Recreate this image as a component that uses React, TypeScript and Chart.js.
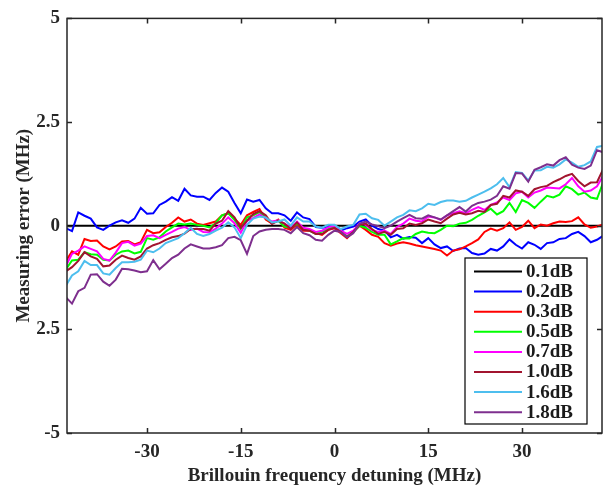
import React, { useEffect, useRef } from "react";
import { Chart, registerables } from "chart.js";

Chart.register(...registerables);

const detuning = [
  -43, -42, -41, -40, -39, -38, -37, -36, -35, -34, -33, -32, -31, -30, -29, -28, -27, -26, -25, -24, -23, -22,
  -21, -20, -19, -18, -17, -16, -15, -14, -13, -12, -11, -10, -9, -8, -7, -6, -5, -4, -3, -2, -1, 0, 1, 2, 3, 4,
  5, 6, 7, 8, 9, 10, 11, 12, 13, 14, 15, 16, 17, 18, 19, 20, 21, 22, 23, 24, 25, 26, 27, 28, 29, 30, 31, 32, 33,
  34, 35, 36, 37, 38, 39, 40, 41, 42, 43,
];

const seriesLabels = ["0.1dB", "0.2dB", "0.3dB", "0.5dB", "0.7dB", "1.0dB", "1.6dB", "1.8dB"];
const seriesColors = ["#000000", "#0000FF", "#FF0000", "#00FF00", "#FF00FF", "#A2142F", "#4DBEEE", "#7E2F8E"];

const err01 = [
  0, 0, 0, 0, 0, 0, 0, 0, 0, 0, 0, 0, 0, 0, 0, 0, 0, 0, 0, 0, 0, 0, 0, 0, 0, 0, 0, 0, 0, 0, 0, 0, 0, 0, 0, 0, 0, 0,
  0, 0, 0, 0, 0, 0, 0, 0, 0, 0, 0, 0, 0, 0, 0, 0, 0, 0, 0, 0, 0, 0, 0, 0, 0, 0, 0, 0, 0, 0, 0, 0, 0, 0, 0, 0, 0, 0,
  0, 0, 0, 0, 0, 0, 0, 0, 0, 0, 0,
];

const err02 = [
  -0.06, -0.13, 0.32, 0.24, 0.17, -0.04, -0.1, 0.0, 0.08, 0.13, 0.07, 0.17, 0.43, 0.29, 0.3, 0.5, 0.58, 0.69,
  0.6, 0.89, 0.73, 0.7, 0.7, 0.62, 0.79, 0.92, 0.82, 0.55, 0.3, 0.63, 0.58, 0.62, 0.42, 0.3, 0.3, 0.25, 0.12,
  0.32, 0.2, 0.16, -0.03, -0.05, -0.03, 0.0, -0.12, -0.06, -0.02, 0.1, 0.15, 0.0, -0.08, -0.12, -0.28, -0.22,
  -0.31, -0.27, -0.29, -0.42, -0.3, -0.45, -0.54, -0.5, -0.61, -0.55, -0.54, -0.66, -0.7, -0.67, -0.56, -0.6,
  -0.5, -0.33, -0.46, -0.55, -0.4, -0.46, -0.56, -0.42, -0.4, -0.32, -0.3, -0.2, -0.15, -0.25, -0.4, -0.34, -0.24,
];

const err03 = [
  -0.86, -0.62, -0.7, -0.32, -0.37, -0.36, -0.5, -0.57, -0.5, -0.38, -0.37, -0.45, -0.4, -0.1, -0.18, -0.16,
  -0.03, 0.07, 0.2, 0.1, 0.15, 0.05, 0.02, 0.06, 0.1, 0.25, 0.3, 0.17, 0.02, 0.25, 0.33, 0.4, 0.15, 0.05, 0.15,
  -0.05, -0.1, 0.03, -0.12, -0.12, -0.18, -0.22, -0.1, -0.06, -0.18, -0.3, -0.15, 0.0, -0.1, -0.22, -0.27, -0.42,
  -0.48, -0.43, -0.4, -0.43, -0.47, -0.5, -0.53, -0.56, -0.6, -0.72, -0.6, -0.57, -0.5, -0.42, -0.33, -0.15,
  -0.07, -0.12, -0.06, 0.08, -0.1, -0.03, 0.12, -0.06, 0.03, 0.0, 0.06, 0.1, 0.09, 0.11, 0.2, 0.03, -0.05, -0.02,
  0.03,
];

const err05 = [
  -1.06, -0.84, -0.82, -0.64, -0.69, -0.7, -0.82, -0.84, -0.7, -0.62, -0.6, -0.67, -0.63, -0.3, -0.34, -0.28,
  -0.14, -0.04, 0.05, 0.03, 0.05, 0.02, 0.0, -0.04, 0.06, 0.25, 0.3, 0.14, -0.08, 0.2, 0.25, 0.33, 0.18, 0.08,
  0.12, -0.02, -0.05, 0.05, -0.06, -0.12, -0.2, -0.14, -0.08, -0.02, -0.15, -0.26, -0.15, 0.0, -0.05, -0.15,
  -0.22, -0.22, -0.45, -0.38, -0.3, -0.31, -0.2, -0.14, -0.17, -0.18, -0.1, 0.0, -0.01, 0.05, 0.07, 0.14, 0.24,
  0.32, 0.41, 0.27, 0.35, 0.55, 0.33, 0.62, 0.55, 0.43, 0.58, 0.72, 0.68, 0.75, 0.95, 0.88, 0.75, 0.8, 0.68, 0.65,
  1.05,
];

const err07 = [
  -0.98, -0.68, -0.6, -0.5, -0.56, -0.62, -0.8, -0.84, -0.65, -0.42, -0.39, -0.48, -0.43, -0.25, -0.23, -0.3,
  -0.22, -0.15, -0.07, -0.03, -0.1, -0.07, -0.15, -0.16, -0.07, 0.05, 0.2, 0.06, -0.17, 0.12, 0.19, 0.27, 0.18,
  0.1, 0.13, 0.05, -0.05, 0.1, -0.05, -0.08, -0.15, -0.12, -0.04, 0.0, -0.12, -0.2, -0.12, 0.05, 0.02, -0.1,
  -0.15, -0.12, -0.2, -0.03, 0.05, 0.17, 0.12, 0.1, 0.22, 0.2, 0.14, 0.25, 0.3, 0.35, 0.3, 0.38, 0.45, 0.38, 0.5,
  0.56, 0.68, 0.62, 0.78, 0.82, 0.68, 0.8, 0.85, 0.92, 0.91, 0.9, 1.0, 1.15, 0.95, 0.82, 0.85, 0.95, 1.21,
];

const err10 = [
  -1.1, -1.0, -0.85, -0.64, -0.74, -0.8, -0.98, -0.96, -0.82, -0.72, -0.78, -0.82, -0.74, -0.55, -0.47, -0.42,
  -0.34, -0.28, -0.25, -0.19, -0.08, -0.08, -0.08, -0.12, 0.05, 0.12, 0.35, 0.2, -0.05, 0.12, 0.28, 0.35, 0.25,
  0.04, 0.12, 0.05, -0.08, 0.08, -0.1, -0.12, -0.2, -0.2, -0.1, -0.05, -0.15, -0.28, -0.15, 0.02, 0.05, -0.08,
  -0.2, -0.15, -0.22, -0.08, -0.06, 0.05, 0.02, 0.06, 0.15, 0.1, 0.06, 0.17, 0.27, 0.31, 0.27, 0.3, 0.36, 0.33,
  0.5, 0.53, 0.72, 0.68, 0.85, 0.82, 0.72, 0.88, 0.93, 0.96, 1.05, 1.12, 1.2, 1.25, 1.08, 0.95, 1.04, 1.05, 1.37,
];

const err16 = [
  -1.45, -1.2, -1.1, -0.85, -0.95, -0.95, -1.15, -1.18, -1.02, -0.88, -0.88, -0.87, -0.82, -0.6, -0.64, -0.55,
  -0.42, -0.36, -0.3, -0.18, -0.05, -0.2, -0.25, -0.2, -0.12, -0.05, 0.08, -0.04, -0.3, 0.02, 0.17, 0.22, 0.2,
  0.08, 0.1, 0.15, 0.0, 0.2, 0.1, 0.1, -0.02, -0.05, 0.02, 0.02, -0.08, -0.02, 0.02, 0.27, 0.29, 0.18, 0.14, 0.0,
  0.1, 0.2, 0.26, 0.37, 0.35, 0.42, 0.53, 0.5, 0.57, 0.61, 0.61, 0.58, 0.6, 0.68, 0.75, 0.82, 0.9, 1.0, 1.15,
  0.93, 1.29, 1.27, 1.09, 1.33, 1.34, 1.42, 1.4, 1.48, 1.6, 1.52, 1.42, 1.46, 1.55, 1.9, 1.93,
];

const err18 = [
  -1.72, -1.88, -1.58, -1.5, -1.18, -1.17, -1.35, -1.45, -1.3, -1.04, -1.05, -1.08, -1.12, -1.1, -0.83, -1.05,
  -0.92, -0.78, -0.7, -0.55, -0.45, -0.5, -0.55, -0.55, -0.52, -0.47, -0.3, -0.27, -0.35, -0.68, -0.25, -0.14,
  -0.1, -0.08, -0.08, -0.1, -0.18, -0.03, -0.18, -0.23, -0.34, -0.36, -0.22, -0.12, -0.15, -0.28, -0.18, 0.05,
  0.1, 0.03, -0.01, -0.06, 0.0, 0.1, 0.18, 0.26, 0.18, 0.17, 0.25, 0.2, 0.15, 0.25, 0.35, 0.45, 0.34, 0.48,
  0.55, 0.58, 0.63, 0.72, 0.95, 0.89, 1.27, 1.26, 1.06, 1.35, 1.41, 1.48, 1.45, 1.58, 1.65, 1.47, 1.4, 1.37,
  1.45, 1.82, 1.77,
];

const seriesValues = [err01, err02, err03, err05, err07, err10, err16, err18];

const xTicks = [-30, -15, 0, 15, 30];
const yTicks = [-5, -2.5, 0, 2.5, 5];
const yTickLabels = ["-5", "2.5", "0", "2.5", "5"];

const FONT_FAMILY = "'Liberation Serif', 'Times New Roman', serif";
const AXIS_COLOR = "#262626";

const framePlugin = {
  id: "frame",
  afterDatasetsDraw(chart: any) {
    const { ctx, chartArea } = chart;
    const { left, right, top, bottom } = chartArea;
    const xs = chart.scales.x;
    const ys = chart.scales.y;
    ctx.save();
    ctx.strokeStyle = AXIS_COLOR;
    ctx.lineWidth = 1.5;
    ctx.strokeRect(left, top, right - left, bottom - top);
    const tl = 5;
    ctx.beginPath();
    xs.ticks.forEach((t: any) => {
      const px = Math.round(xs.getPixelForValue(t.value)) + 0.5;
      ctx.moveTo(px, bottom);
      ctx.lineTo(px, bottom - tl);
      ctx.moveTo(px, top);
      ctx.lineTo(px, top + tl);
    });
    ys.ticks.forEach((t: any) => {
      const py = Math.round(ys.getPixelForValue(t.value)) + 0.5;
      ctx.moveTo(left, py);
      ctx.lineTo(left + tl, py);
      ctx.moveTo(right, py);
      ctx.lineTo(right - tl, py);
    });
    ctx.stroke();
    ctx.restore();
  },
  afterDraw(chart: any) {
    const { ctx, chartArea } = chart;
    const datasets = chart.data.datasets;
    const boxRight = chartArea.right - 15;
    const boxBottom = chartArea.bottom - 9;
    const boxW = 122;
    const rowH = 20.1;
    const boxH = 166;
    const boxLeft = boxRight - boxW;
    const boxTop = boxBottom - boxH;
    ctx.save();
    ctx.fillStyle = "#ffffff";
    ctx.fillRect(boxLeft, boxTop, boxW, boxH);
    ctx.strokeStyle = "#000000";
    ctx.lineWidth = 1.2;
    ctx.strokeRect(boxLeft, boxTop, boxW, boxH);
    ctx.font = `bold 19px ${FONT_FAMILY}`;
    ctx.textBaseline = "middle";
    ctx.textAlign = "left";
    datasets.forEach((ds: any, i: number) => {
      const cy = boxTop + 13.5 + i * rowH;
      ctx.strokeStyle = ds.borderColor;
      ctx.lineWidth = 2;
      ctx.beginPath();
      ctx.moveTo(boxLeft + 9, cy);
      ctx.lineTo(boxLeft + 57, cy);
      ctx.stroke();
      ctx.fillStyle = "#1a1a1a";
      ctx.fillText(ds.label, boxLeft + 61, cy + 0.5);
    });
    ctx.restore();
  },
};

export default function App() {
  const canvasRef = useRef<HTMLCanvasElement | null>(null);

  useEffect(() => {
    if (!canvasRef.current) return;
    const datasets = seriesValues.map((vals, i) => ({
      label: seriesLabels[i],
      data: vals.map((v, j) => ({ x: detuning[j], y: v })),
      borderColor: seriesColors[i],
      backgroundColor: seriesColors[i],
      borderWidth: 2,
      pointRadius: 0,
      tension: 0,
      fill: false,
      order: seriesValues.length - i,
    }));

    const chart = new Chart(canvasRef.current, {
      type: "line",
      data: { datasets },
      options: {
        responsive: false,
        animation: false,
        events: [],
        layout: { padding: { top: 15, right: 1, left: 0, bottom: 0 } },
        plugins: {
          legend: { display: false },
          tooltip: { enabled: false },
        },
        scales: {
          x: {
            type: "linear",
            min: -42.8,
            max: 42.8,
            afterBuildTicks: (scale: any) => {
              scale.ticks = xTicks.map((v) => ({ value: v }));
            },
            afterFit: (scale: any) => {
              scale.height = 52;
            },
            grid: { display: false, drawTicks: false, tickLength: 0 },
            border: { display: false },
            ticks: {
              padding: 8,
              color: AXIS_COLOR,
              font: { family: FONT_FAMILY, size: 19, weight: "bold" },
              maxRotation: 0,
              callback: (v: any) => String(v),
            },
            title: {
              display: true,
              text: "Brillouin frequency detuning (MHz)",
              color: AXIS_COLOR,
              font: { family: FONT_FAMILY, size: 19, weight: "bold" },
              padding: { top: 0, bottom: -2 },
            },
          },
          y: {
            type: "linear",
            min: -5,
            max: 5,
            afterBuildTicks: (scale: any) => {
              scale.ticks = yTicks.map((v) => ({ value: v }));
            },
            afterFit: (scale: any) => {
              scale.width = 67;
            },
            grid: { display: false, drawTicks: false, tickLength: 0 },
            border: { display: false },
            ticks: {
              padding: 7,
              color: AXIS_COLOR,
              font: { family: FONT_FAMILY, size: 19, weight: "bold" },
              callback: (v: any) => {
                const idx = yTicks.indexOf(Number(v));
                return idx >= 0 ? yTickLabels[idx] : "";
              },
            },
            title: {
              display: true,
              text: "Measuring error (MHz)",
              color: AXIS_COLOR,
              font: { family: FONT_FAMILY, size: 19, weight: "bold" },
              padding: { top: 12.5, bottom: 0 },
            },
          },
        },
      },
      plugins: [framePlugin],
    });
    return () => chart.destroy();
  }, []);

  return (
    <div style={{ position: "absolute", left: 0, top: 0, width: 603, height: 485, background: "#ffffff" }}>
      <canvas ref={canvasRef} width={603} height={485} style={{ display: "block" }} />
    </div>
  );
}
